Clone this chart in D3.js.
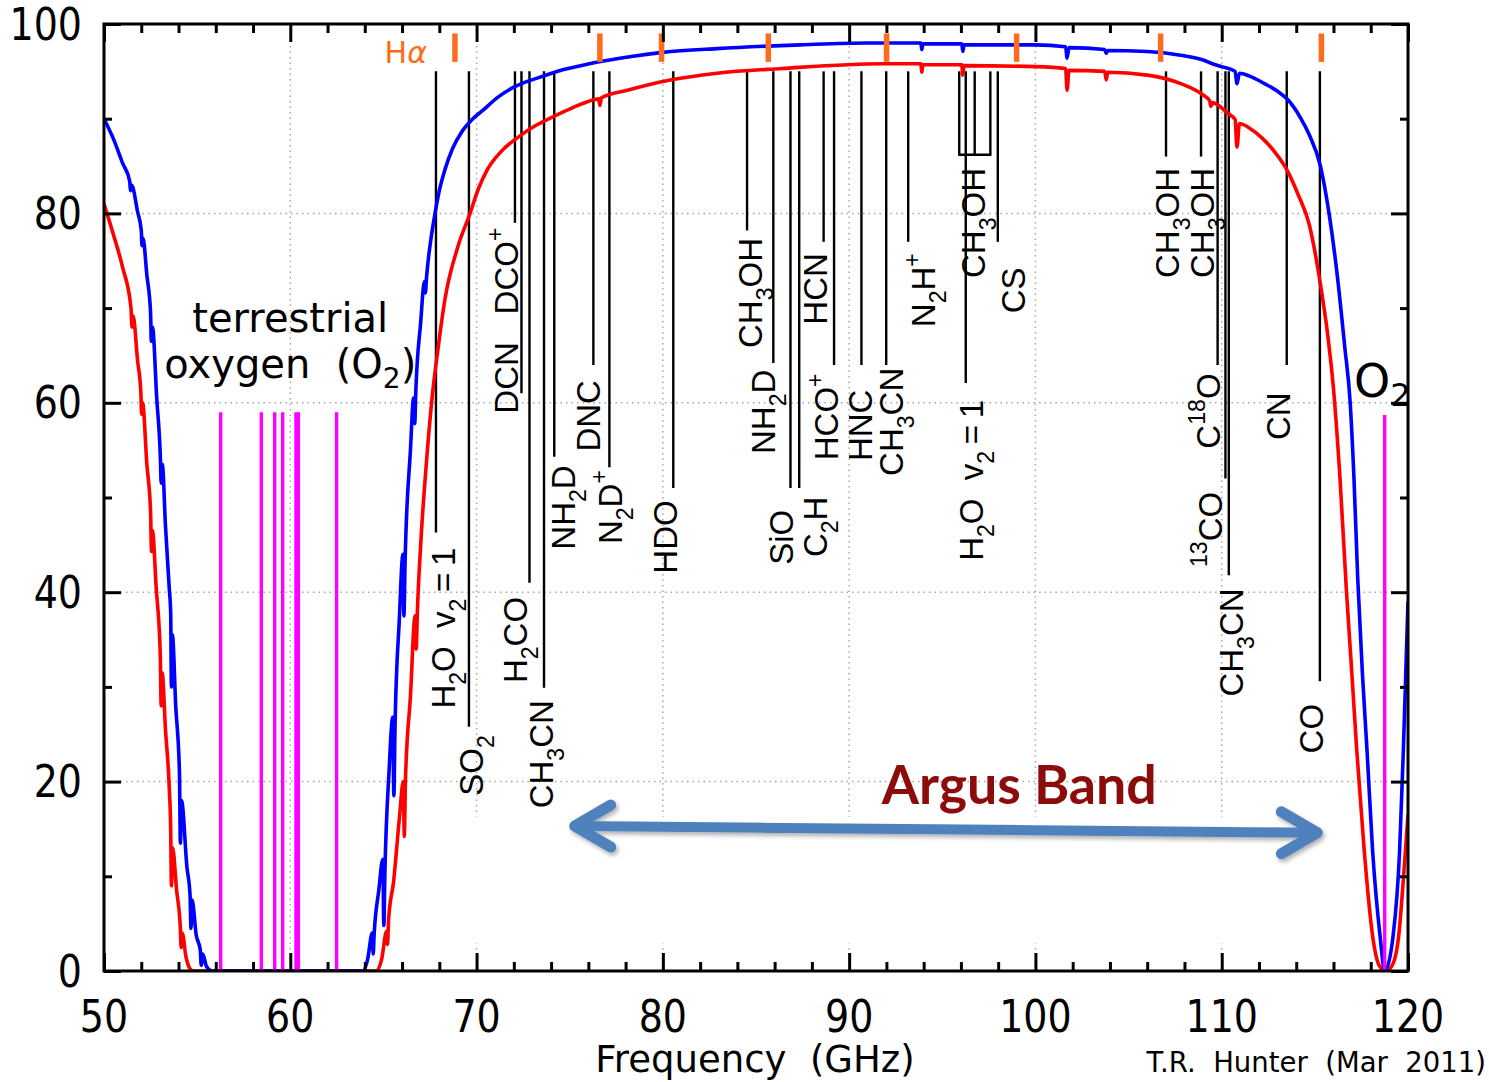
<!DOCTYPE html>
<html>
<head>
<meta charset="utf-8">
<script src="https://cdn.jsdelivr.net/npm/d3@7"></script>
<style>
  body { margin: 0; background: #fff; }
  svg { display: block; }
</style>
</head>
<body>
<svg id="chart"></svg>
<script>
// axis ticks
const xTickLabels = [50, 60, 70, 80, 90, 100, 110, 120];
const yTickLabels = [0, 20, 40, 60, 80, 100];
const gridX = [60, 70, 80, 90, 100, 110];
const gridY = [20, 40, 60, 80];

// atmospheric transmission (%) vs frequency (GHz)
const blueCurve = [
  [50,90.0],[50.5,87.9],[51.0,85.3],[51.38,83.4],[51.42,82.4],[51.48,83.0],[51.8,80.2],[52.0,78.2],
  [52.04,76.6],[52.09,77.4],[52.3,73.5],[52.5,69.5],[52.54,66.5],[52.6,68.0],[52.83,60.5],[53.03,54.0],
  [53.07,51.5],[53.13,53.5],[53.3,47.0],[53.5,40.5],[53.58,37.8],[53.62,30.0],[53.67,35.5],[53.85,28.0],
  [54.05,21.0],[54.1,13.5],[54.16,18.0],[54.45,11.0],[54.62,8.0],[54.67,4.5],[54.73,7.5],[54.95,3.8],
  [55.17,2.2],[55.22,0.6],[55.3,1.8],[55.5,0.5],[55.8,0],[63.9,0],[64.15,1.2],[64.4,4.0],[64.45,1.8],
  [64.5,3.8],[64.75,8.5],[64.97,11.8],[65.02,4.8],[65.08,10.5],[65.3,21.0],[65.5,26.8],[65.56,18.5],
  [65.62,25.5],[65.85,37.0],[66.05,44.0],[66.1,37.5],[66.16,43.0],[66.45,55.0],[66.62,60.5],[66.68,57.8],
  [66.74,61.3],[67.0,68.5],[67.2,72.8],[67.25,71.6],[67.32,73.4],[67.55,77.3],[67.77,80.0],[68.0,82.4],
  [68.3,84.6],[68.7,86.8],[69.2,88.6],[69.8,90.0],[70.35,90.9],[71.1,92.2],[71.97,93.3],[72.8,94.0],
  [73.6,94.5],[74.5,95.1],[75.4,95.5],[76.3,95.9],[78.4,96.6],[80,97.0],[82.9,97.4],[87.4,97.8],
  [91,98.0],[93.85,98.0],[93.9,97.3],[93.96,97.9],[96.05,97.9],[96.1,97.1],[96.17,97.8],[100,97.8],
  [101.62,97.6],[101.7,96.4],[101.8,97.5],[103.72,97.3],[103.8,96.9],[103.88,97.2],[106,97.1],
  [107.8,96.7],[109,96.2],[109.5,95.8],[110.0,95.5],[110.72,95.0],[110.82,93.7],[110.95,94.8],
  [111.5,94.5],[112.3,93.7],[113.0,92.9],[113.55,92.0],[114.2,90.2],[114.7,88.3],[115.3,85.0],
  [115.8,79.5],[116.2,73.5],[116.6,66.0],[116.9,59.9],[117.1,52.0],[117.3,41.5],[117.55,31.5],
  [117.8,23.3],[118.1,12.7],[118.5,3.7],[118.75,0],[119.2,3.7],[119.55,12.7],[119.75,23.3],[120,39.0]
];

const redCurve = [
  [50,81.0],[50.5,77.8],[51.0,74.3],[51.45,70.0],[51.5,68.0],[51.56,69.2],[51.8,64.5],[51.98,61.0],
  [52.02,58.8],[52.07,60.0],[52.3,53.5],[52.5,48.5],[52.55,44.3],[52.6,46.5],[52.8,40.5],[53.02,33.5],
  [53.07,28.0],[53.12,31.5],[53.3,25.5],[53.5,19.5],[53.58,15.0],[53.62,9.0],[53.68,13.0],[53.9,8.5],
  [54.1,4.5],[54.14,2.5],[54.2,4.0],[54.4,1.5],[54.6,0.3],[54.8,0],[64.6,0],[64.9,1.2],[65.17,4.2],
  [65.22,2.8],[65.28,5.5],[65.55,9.5],[65.85,16.0],[66.07,20.0],[66.12,14.2],[66.18,20.0],[66.45,29.0],
  [66.7,37.5],[66.76,34.0],[66.82,37.8],[67.0,45.0],[67.3,53.5],[67.6,60.3],[67.95,66.0],[68.3,70.9],
  [69.0,76.5],[69.65,80.0],[70.1,82.6],[70.54,84.5],[71.3,86.5],[72.2,88.0],[73.1,89.2],[74.1,90.2],
  [75.2,91.2],[76.3,92.0],[76.55,92.1],[76.62,91.4],[76.7,92.2],[78.1,93.0],[80.2,94.0],[82.9,94.8],
  [86.4,95.3],[91.8,95.8],[93.85,95.8],[93.9,94.9],[93.96,95.7],[96.05,95.7],[96.1,94.6],[96.17,95.6],
  [100,95.5],[101.62,95.3],[101.7,93.0],[101.8,95.1],[103.72,95.0],[103.8,94.1],[103.88,94.9],
  [106,94.6],[107.8,93.7],[109,92.5],[109.35,91.9],[109.42,91.3],[109.5,91.7],[110.3,90.6],
  [110.72,89.9],[110.82,87.0],[110.95,89.5],[111.5,89.0],[112.2,87.9],[112.8,86.6],[113.5,84.6],
  [114.1,82.0],[114.7,78.8],[115.3,72.5],[115.7,67.0],[116.0,61.5],[116.35,52.0],[116.7,40.0],
  [117.0,31.0],[117.25,23.3],[117.65,12.7],[118.1,3.7],[118.45,0.6],[118.8,0],[119.15,0.6],
  [119.5,3.7],[119.8,11.0],[120,16.5]
];

// terrestrial O2 lines (magenta)
const o2Freq = [56.265, 58.446, 59.164, 59.591, 60.306, 60.435, 62.486, 118.75];
const o2Top = [59, 59, 59, 59, 59, 59, 59, 58.7];

// hydrogen recombination lines (orange marks at the top)
const halphaFreq = [68.84, 76.62, 79.93, 85.66, 92.01, 98.99, 106.72, 115.35];
const halphaSpan = [96.0, 99.0];

// molecular lines (black)
const lineTop = 95.0;
const lineFreq = [67.82, 69.59, 72.06, 72.41, 72.84, 73.62, 74.17, 76.27, 77.13, 80.56, 84.52, 85.93,
  86.85, 87.32, 88.63, 89.19, 90.66, 91.99, 93.17, 95.91, 96.26, 96.74, 97.58, 97.98, 107.01, 108.89,
  109.78, 110.20, 110.38, 113.49, 115.27];
const lineBottom = [46.3, 25.8, 79.0, 61.0, 41.0, 29.9, 54.3, 64.0, 53.2, 51.0, 78.2, 64.2,
  51.0, 51.0, 77.0, 64.0, 64.0, 64.0, 77.0, 86.2, 62.1, 86.2, 86.2, 77.0, 86.0, 86.0,
  64.0, 52.0, 41.8, 64.0, 30.6];
const ch3ohBracket = [95.91, 97.58, 86.2];

// line labels: text, baseline frequency, level of the label's upper end
const labelText = ["H_2O  v_2\u2009=\u20091", "SO_2", "DCO^+", "DCN", "H_2CO", "CH_3CN", "NH_2D", "DNC", "N_2D^+",
  "HDO", "CH_3OH", "NH_2D", "SiO", "C_2H", "HCN", "HCO^+", "HNC", "CH_3CN", "N_2H^+", "CH_3OH",
  "H_2O  v_2\u2009=\u20091", "CS", "CH_3OH", "CH_3OH", "C^{18}O", "^{13}CO", "CH_3CN", "CN", "CO"];
const labelFreq = [68.84, 70.34, 72.22, 72.22, 72.71, 74.10, 75.28, 76.62, 77.80, 80.76, 85.32, 86.02,
  86.98, 88.81, 88.81, 89.40, 91.22, 92.89, 94.61, 97.29, 97.18, 99.44, 107.70, 109.58, 109.90, 110.01,
  111.14, 113.66, 115.43];
const labelTop = [44.7, 24.9, 78.5, 66.4, 39.5, 28.6, 53.4, 62.4, 52.9, 49.7, 77.4, 63.5, 48.7, 50.1,
  75.8, 63.1, 61.4, 63.7, 75.8, 84.8, 60.3, 74.3, 84.8, 84.8, 63.1, 50.6, 40.4, 61.1, 28.2];

// Argus band arrow
const argusBand = [75.0, 115.4];
const argusLevel = [15.3, 14.6];

const W = 1489, H = 1082;
const margin = { top: 24, right: 81, bottom: 111, left: 104 };

const svg = d3.select("#chart").attr("width", W).attr("height", H)
  .attr("viewBox", `0 0 ${W} ${H}`);

const x = d3.scaleLinear().domain([50, 120]).range([margin.left, W - margin.right]);
const y = d3.scaleLinear().domain([0, 100]).range([H - margin.bottom, margin.top]);

const defs = svg.append("defs");
defs.append("clipPath").attr("id", "plotClip")
  .append("rect")
  .attr("x", x(50)).attr("y", y(100))
  .attr("width", x(120) - x(50)).attr("height", y(0) - y(100));
defs.append("filter").attr("id", "shadow")
  .attr("x", "-10%").attr("y", "-50%").attr("width", "120%").attr("height", "200%")
  .append("feDropShadow")
  .attr("dx", 2).attr("dy", 3).attr("stdDeviation", 2)
  .attr("flood-color", "#000").attr("flood-opacity", 0.3);

// grid
const grid = svg.append("g")
  .attr("stroke", "#a8a8a8").attr("stroke-width", 1.5).attr("stroke-dasharray", "1.5,4");
grid.selectAll(".gx").data(gridX).enter().append("line")
  .attr("x1", d => x(d)).attr("x2", d => x(d))
  .attr("y1", y(100)).attr("y2", y(0));
grid.selectAll(".gy").data(gridY).enter().append("line")
  .attr("x1", x(50)).attr("x2", x(120))
  .attr("y1", d => y(d)).attr("y2", d => y(d));

// white box behind the band arrow
svg.append("rect")
  .attr("x", x(69)).attr("y", y(16.3))
  .attr("width", x(116.3) - x(69)).attr("height", y(2.9) - y(16.3))
  .attr("fill", "#fff");

const plot = svg.append("g").attr("clip-path", "url(#plotClip)");

// molecular lines
plot.selectAll(".mol").data(lineFreq).enter().append("line")
  .attr("x1", d => x(d)).attr("x2", d => x(d))
  .attr("y1", y(lineTop)).attr("y2", (d, i) => y(lineBottom[i]))
  .attr("stroke", "#000").attr("stroke-width", 2.4);
plot.append("line")
  .attr("x1", x(ch3ohBracket[0]) - 1).attr("x2", x(ch3ohBracket[1]) + 1)
  .attr("y1", y(ch3ohBracket[2])).attr("y2", y(ch3ohBracket[2]))
  .attr("stroke", "#000").attr("stroke-width", 2.4);

// transmission curves
const line = d3.line().x(d => x(d[0])).y(d => y(d[1])).curve(d3.curveMonotoneX);
plot.append("path").datum(redCurve)
  .attr("d", line).attr("fill", "none")
  .attr("stroke", "#ff0000").attr("stroke-width", 3.6).attr("stroke-linejoin", "round");
plot.append("path").datum(blueCurve)
  .attr("d", line).attr("fill", "none")
  .attr("stroke", "#0000ff").attr("stroke-width", 3.6).attr("stroke-linejoin", "round");

// O2 lines
plot.selectAll(".o2").data(o2Freq).enter().append("line")
  .attr("x1", d => x(d)).attr("x2", d => x(d))
  .attr("y1", (d, i) => y(o2Top[i])).attr("y2", y(0))
  .attr("stroke", "#ff00ff").attr("stroke-width", 3.4);

// H alpha marks
plot.selectAll(".ha").data(halphaFreq).enter().append("line")
  .attr("x1", d => x(d)).attr("x2", d => x(d))
  .attr("y1", y(halphaSpan[1])).attr("y2", y(halphaSpan[0]))
  .attr("stroke", "#ff6b1a").attr("stroke-width", 5.5);

// frame
svg.append("rect")
  .attr("x", x(50)).attr("y", y(100))
  .attr("width", x(120) - x(50)).attr("height", y(0) - y(100))
  .attr("fill", "none").attr("stroke", "#000").attr("stroke-width", 3);

// ticks
const minorX = d3.range(50, 121, 2).filter(d => d % 10 !== 0);
const minorY = [10, 30, 50, 70, 90];
function styleTicks(g) {
  g.select(".domain").remove();
  g.selectAll(".tick line").attr("stroke", "#000").attr("stroke-width", 3);
  g.selectAll(".tick text").remove();
}
svg.append("g").attr("transform", `translate(0,${y(0)})`)
  .call(d3.axisBottom(x).tickValues(xTickLabels).tickSize(-18)).call(styleTicks);
svg.append("g").attr("transform", `translate(0,${y(0)})`)
  .call(d3.axisBottom(x).tickValues(minorX).tickSize(-9)).call(styleTicks);
svg.append("g").attr("transform", `translate(0,${y(100)})`)
  .call(d3.axisTop(x).tickValues(xTickLabels).tickSize(-18)).call(styleTicks);
svg.append("g").attr("transform", `translate(0,${y(100)})`)
  .call(d3.axisTop(x).tickValues(minorX).tickSize(-9)).call(styleTicks);
svg.append("g").attr("transform", `translate(${x(50)},0)`)
  .call(d3.axisLeft(y).tickValues(yTickLabels).tickSize(-17)).call(styleTicks);
svg.append("g").attr("transform", `translate(${x(50)},0)`)
  .call(d3.axisLeft(y).tickValues(minorY).tickSize(-8)).call(styleTicks);
svg.append("g").attr("transform", `translate(${x(120)},0)`)
  .call(d3.axisRight(y).tickValues(yTickLabels).tickSize(-17)).call(styleTicks);
svg.append("g").attr("transform", `translate(${x(120)},0)`)
  .call(d3.axisRight(y).tickValues(minorY).tickSize(-8)).call(styleTicks);

// tick labels
const axisFont = "'DejaVu Sans', sans-serif";
svg.append("g").selectAll("text").data(xTickLabels).enter().append("text")
  .attr("transform", d => `translate(${x(d)},${y(0) + 61}) scale(1,1.15)`)
  .attr("text-anchor", "middle")
  .attr("font-family", axisFont).attr("font-size", 38)
  .text(d => d);
svg.append("g").selectAll("text").data(yTickLabels).enter().append("text")
  .attr("transform", d => `translate(${x(50) - 22},${y(d) + 15.5}) scale(1,1.15)`)
  .attr("text-anchor", "end")
  .attr("font-family", axisFont).attr("font-size", 38)
  .text(d => d);

svg.append("text")
  .attr("x", 755).attr("y", y(0) + 101)
  .attr("text-anchor", "middle")
  .attr("xml:space", "preserve").style("white-space", "pre")
  .attr("font-family", axisFont).attr("font-size", 37)
  .text("Frequency  (GHz)");
svg.append("text")
  .attr("x", W - 3).attr("y", y(0) + 101)
  .attr("text-anchor", "end")
  .attr("xml:space", "preserve").style("white-space", "pre")
  .attr("font-family", axisFont).attr("font-size", 27.5)
  .text("T.R.  Hunter  (Mar  2011)");

// rich text helper: _x subscript, ^x superscript, {..} groups
function richText(sel, str, sub, sup) {
  const re = /([_^])(\{[^}]*\}|.)|([^_^]+)/g;
  let m;
  while ((m = re.exec(str))) {
    if (m[3]) {
      sel.append("tspan").text(m[3]);
    } else {
      sel.append("tspan")
        .attr("font-size", "70%")
        .attr("baseline-shift", m[1] === "_" ? sub : sup)
        .text(m[2].replace(/[{}]/g, ""));
    }
  }
}

// molecule labels
const labels = svg.append("g")
  .attr("font-family", "'Liberation Sans', Arial, sans-serif")
  .attr("font-size", 33);
labelText.forEach((t, i) => {
  const tx = labels.append("text")
    .attr("transform", `translate(${x(labelFreq[i])},${y(labelTop[i])}) rotate(-90)`)
    .attr("text-anchor", "end")
    .attr("xml:space", "preserve").style("white-space", "pre");
  richText(tx, t, "-11px", "15px");
});

// H alpha label
const ha = svg.append("text")
  .attr("x", x(halphaFreq[0]) - 28).attr("y", y(halphaSpan[0]) + 1)
  .attr("text-anchor", "end")
  .attr("font-family", axisFont).attr("font-size", 30)
  .attr("fill", "#ff6b1a");
ha.append("tspan").text("H");
ha.append("tspan").attr("font-style", "italic").text("α");

// terrestrial oxygen label
svg.append("text")
  .attr("x", x(60)).attr("y", y(67.5))
  .attr("text-anchor", "middle")
  .attr("font-family", axisFont).attr("font-size", 40)
  .text("terrestrial");
const ox = svg.append("text")
  .attr("x", x(60)).attr("y", y(62.6))
  .attr("text-anchor", "middle")
  .attr("xml:space", "preserve").style("white-space", "pre")
  .attr("font-family", axisFont).attr("font-size", 40);
richText(ox, "oxygen  (O_2)", "-10px", "12px");

const o2 = svg.append("text")
  .attr("x", x(117.1)).attr("y", y(60.6))
  .attr("font-family", axisFont).attr("font-size", 46);
richText(o2, "O_2", "-9px", "12px");

// Argus band arrow
const ax0 = x(argusBand[0]) + 5, ay0 = y(argusLevel[0]);
const ax1 = x(argusBand[1]) - 5, ay1 = y(argusLevel[1]);
const arrow = svg.append("g")
  .attr("filter", "url(#shadow)")
  .attr("fill", "none").attr("stroke", "#4f81bd")
  .attr("stroke-linecap", "round").attr("stroke-linejoin", "round");
arrow.append("line")
  .attr("x1", ax0).attr("y1", ay0).attr("x2", ax1).attr("y2", ay1)
  .attr("stroke-width", 10);
arrow.append("path")
  .attr("d", `M${ax0 + 36},${ay0 - 21} L${ax0},${ay0} L${ax0 + 36},${ay0 + 21}`)
  .attr("stroke-width", 11);
arrow.append("path")
  .attr("d", `M${ax1 - 36},${ay1 - 21} L${ax1},${ay1} L${ax1 - 36},${ay1 + 21}`)
  .attr("stroke-width", 11);

svg.append("text")
  .attr("x", x(91.75)).attr("y", y(17.6))
  .attr("font-family", "Lato, 'Open Sans', sans-serif").attr("font-weight", 700)
  .attr("font-size", 54).attr("fill", "#8c0c0c")
  .attr("textLength", 275).attr("lengthAdjust", "spacingAndGlyphs")
  .text("Argus Band");
</script>
</body>
</html>
